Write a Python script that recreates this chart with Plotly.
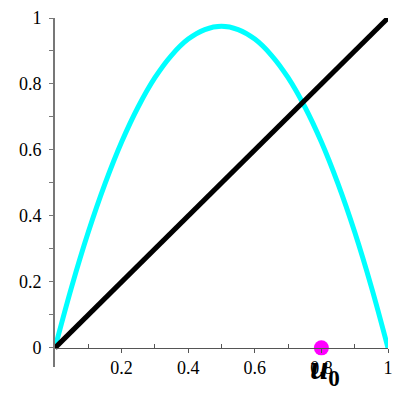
import plotly.graph_objects as go

# Curve samples
curve_x = [0.0, 0.05, 0.1, 0.15, 0.2, 0.25, 0.3, 0.35, 0.4, 0.45, 0.5,
           0.55, 0.6, 0.65, 0.7, 0.75, 0.8, 0.85, 0.9, 0.95, 1.0]
curve_y = [0.0, 0.185, 0.351, 0.497, 0.624, 0.731, 0.819, 0.887, 0.936, 0.965, 0.975,
           0.965, 0.936, 0.887, 0.819, 0.731, 0.624, 0.497, 0.351, 0.185, 0.0]
diag_x = [0.0, 1.0]
diag_y = [0.0, 1.0]
point_x = [0.8]
point_y = [0.0]
x_ticks = [0.2, 0.4, 0.6, 0.8, 1.0]
x_ticklabels = ["0.2", "0.4", "0.6", "0.8", "1"]
y_ticks = [0.0, 0.2, 0.4, 0.6, 0.8, 1.0]
y_ticklabels = ["0", "0.2", "0.4", "0.6", "0.8", "1"]

ymin = -0.058
font = "Liberation Serif"

fig = go.Figure()
fig.add_trace(go.Scatter(x=curve_x, y=curve_y, mode="lines",
                         line=dict(color="#00ffff", width=5, shape="spline"),
                         hoverinfo="skip"))
fig.add_trace(go.Scatter(x=diag_x, y=diag_y, mode="lines",
                         line=dict(color="#000000", width=5),
                         hoverinfo="skip"))
fig.add_trace(go.Scatter(x=point_x, y=point_y, mode="markers",
                         marker=dict(color="#ff00ff", size=15),
                         cliponaxis=False, hoverinfo="skip"))

fig.add_annotation(x=point_x[0], y=point_y[0], xref="x", yref="y",
                   text="<b><i>u</i><sub>0</sub></b>", showarrow=False,
                   yshift=-23, xshift=4,
                   font=dict(family=font, size=33, color="#000000"))

# The page body adds an 8px offset, so margins compensate for it
fig.update_layout(
    width=400, height=400,
    margin=dict(l=47, r=20, t=10, b=41, autoexpand=False),
    paper_bgcolor="white", plot_bgcolor="white",
    showlegend=False,
    font=dict(family=font, size=18, color="#000000"),
    xaxis=dict(range=[0, 1], tickvals=x_ticks, ticktext=x_ticklabels,
               showgrid=False, zeroline=False, showline=True,
               linecolor="#555555", linewidth=1,
               ticks="outside", ticklen=4, tickcolor="#555555",
               minor=dict(tickvals=[0.1, 0.3, 0.5, 0.7, 0.9], ticks="inside",
                          ticklen=4, tickcolor="#555555"),
               anchor="free", position=(-ymin) / (1 - ymin),
               automargin=False,
               tickfont=dict(family=font, size=18, color="#000000")),
    yaxis=dict(range=[ymin, 1], tickvals=y_ticks, ticktext=y_ticklabels,
               showgrid=False, zeroline=False, showline=True,
               linecolor="#777777", linewidth=2,
               ticks="outside", ticklen=4, tickcolor="#777777",
               minor=dict(tickvals=[0.1, 0.3, 0.5, 0.7, 0.9], ticks="outside",
                          ticklen=4, tickcolor="#777777"),
               ticklabelstandoff=4, automargin=False,
               tickfont=dict(family=font, size=18, color="#000000")),
)

fig.write_html("out.html")
